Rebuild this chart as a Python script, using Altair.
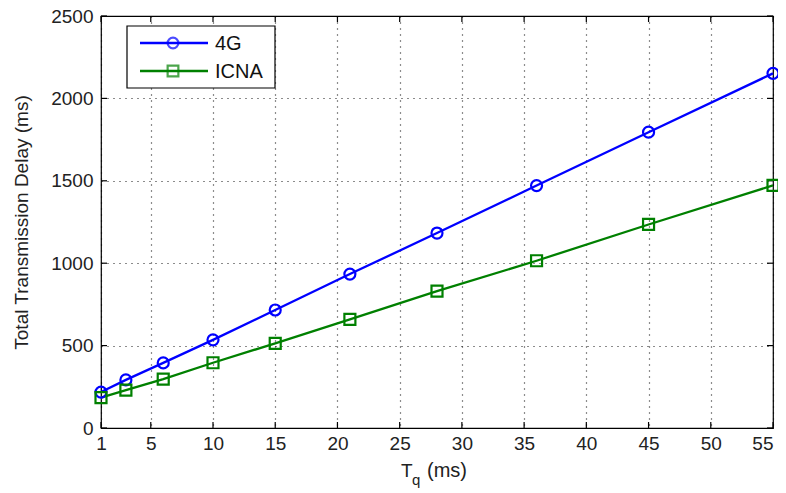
import altair as alt
import pandas as pd

tq = [1, 3, 6, 10, 15, 21, 28, 36, 45, 55]
delay_4g = [218, 292, 395, 535, 716, 934, 1183, 1471, 1795, 2152]
delay_icna = [184, 230, 297, 396, 514, 659, 830, 1015, 1235, 1472]
series = ["4G", "ICNA"]
colors = ["#0000FF", "#008000"]
x_ticks = [1, 5, 10, 15, 20, 25, 30, 35, 40, 45, 50, 55]
y_ticks = [0, 500, 1000, 1500, 2000, 2500]

df = pd.DataFrame({
    "Tq": tq * 2,
    "Delay": delay_4g + delay_icna,
    "Series": [series[0]] * len(tq) + [series[1]] * len(tq),
})

W, H = 672, 412
FONT = "Liberation Sans"

xs = alt.Scale(domain=[1, 55], nice=False, zero=False)
ys = alt.Scale(domain=[0, 2500], nice=False)

base = alt.Chart(df)

grid_axis_x = alt.Axis(values=x_ticks, title=None, ticks=False, domain=False, format="d",
                       labelFont=FONT, labelFontSize=19, labelColor="#222",
                       labelAlign=alt.expr("datum.value >= 55 ? 'right' : 'center'"),
                       labelPadding=6, grid=True, gridColor="#000",
                       gridDash=[1, 5], gridWidth=1.2, gridOpacity=0.9, labelFlush=False)
grid_axis_y = alt.Axis(values=y_ticks, title="Total Transmission Delay (ms)", format="d",
                       ticks=False, domain=False, labelFont=FONT, labelFontSize=19,
                       labelColor="#222", labelPadding=8, grid=True, gridColor="#000",
                       gridDash=[1, 5], gridWidth=1.2, gridOpacity=0.9,
                       titleFont=FONT, titleFontSize=19, titleFontWeight="normal",
                       titleColor="#222", titlePadding=19)

color_scale = alt.Scale(domain=series, range=colors)

lines = base.mark_line(strokeWidth=2.3).encode(
    x=alt.X("Tq:Q", scale=xs, axis=grid_axis_x),
    y=alt.Y("Delay:Q", scale=ys, axis=grid_axis_y),
    color=alt.Color("Series:N", scale=color_scale, legend=None),
)

pts = base.mark_point(filled=False, strokeWidth=2.2, opacity=1).encode(
    x=alt.X("Tq:Q", scale=xs, axis=grid_axis_x),
    y=alt.Y("Delay:Q", scale=ys, axis=grid_axis_y),
    color=alt.Color("Series:N", scale=color_scale, legend=None),
    shape=alt.Shape("Series:N", scale=alt.Scale(domain=series, range=["circle", "square"]), legend=None),
    size=alt.value(121),
)

# inward ticks (MATLAB style)
xt = pd.DataFrame({"Tq": x_ticks})
yt = pd.DataFrame({"Delay": y_ticks})
tick_len = 6
xt_bottom = alt.Chart(xt).mark_rule(color="#000", strokeWidth=1.2).encode(
    x=alt.X("Tq:Q", scale=xs, axis=grid_axis_x), y=alt.value(H), y2=alt.value(H - tick_len))
xt_top = alt.Chart(xt).mark_rule(color="#000", strokeWidth=1.2).encode(
    x=alt.X("Tq:Q", scale=xs, axis=grid_axis_x), y=alt.value(0), y2=alt.value(tick_len))
yt_left = alt.Chart(yt).mark_rule(color="#000", strokeWidth=1.2).encode(
    y=alt.Y("Delay:Q", scale=ys, axis=grid_axis_y), x=alt.value(0), x2=alt.value(tick_len))
yt_right = alt.Chart(yt).mark_rule(color="#000", strokeWidth=1.2).encode(
    y=alt.Y("Delay:Q", scale=ys, axis=grid_axis_y), x=alt.value(W), x2=alt.value(W - tick_len))

# legend
lx0, lx1, ly0, ly1 = 26, 174, 10, 72
leg_box = alt.Chart(pd.DataFrame({"a": [0]})).mark_rect(
    fill="white", stroke="#000", strokeWidth=1.2).encode(
    x=alt.value(lx0), x2=alt.value(lx1), y=alt.value(ly0), y2=alt.value(ly1))
leg_df = pd.DataFrame({"Series": series})
leg_layers = []
row_y = [27, 55]
for i, s in enumerate(series):
    d = alt.Chart(leg_df).transform_filter(alt.datum.Series == s)
    leg_layers.append(d.mark_rule(color=colors[i], strokeWidth=2.3).encode(
        x=alt.value(39), x2=alt.value(107), y=alt.value(row_y[i])))
    leg_layers.append(d.mark_point(filled=False, strokeWidth=2.2, color=colors[i],
                                   shape=["circle", "square"][i], size=115).encode(
        x=alt.value(72), y=alt.value(row_y[i])))
    leg_layers.append(d.mark_text(align="left", baseline="middle", font=FONT,
                                  fontSize=20, color="#111").encode(
        x=alt.value(114), y=alt.value(row_y[i] + 1), text="Series:N"))

# x-axis title with subscript
one = alt.Chart(pd.DataFrame({"a": [0]}))
t_main = one.mark_text(align="left", baseline="alphabetic", font=FONT, fontSize=19,
                       color="#222", text="T").encode(x=alt.value(300), y=alt.value(461))
t_sub = one.mark_text(align="left", baseline="alphabetic", font=FONT, fontSize=15,
                      color="#222", text="q").encode(x=alt.value(311), y=alt.value(469))
t_unit = one.mark_text(align="left", baseline="alphabetic", font=FONT, fontSize=20,
                       color="#222", text="(ms)").encode(x=alt.value(326), y=alt.value(461))

chart = alt.layer(
    lines, xt_bottom, xt_top, yt_left, yt_right, pts, leg_box, *leg_layers,
    t_main, t_sub, t_unit,
).properties(
    width=W, height=H,
    autosize=alt.AutoSizeParams(type="none"),
    padding={"left": 93, "top": 8, "right": 5, "bottom": 60},
    background="white",
).configure_view(stroke="#000", strokeWidth=1.2)

chart.save("out.html", embed_options={"renderer": "svg", "actions": False})
